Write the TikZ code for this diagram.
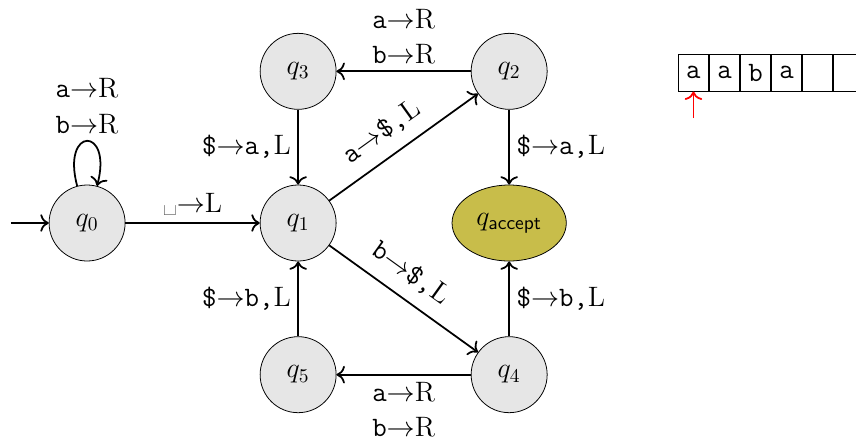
\documentclass[tikz,border=0pt]{standalone}
\usepackage{tikz}
\usetikzlibrary{positioning,shapes.geometric,arrows.meta}
\definecolor{tmgrey}{HTML}{E6E6E6}
\definecolor{tmolive}{HTML}{C8BD4A}
\definecolor{tmred}{HTML}{FF0000}
\tikzset{
  tmstate/.style={circle,draw=black,fill=tmgrey,minimum size=13.7mm,inner sep=0pt},
  accst/.style={ellipse,draw=black,fill=tmolive,minimum width=20.6mm,minimum height=13.7mm,inner sep=0pt},
  trans/.style={-{To[scale=1.2]},line width=0.9pt},
  head/.style={-{To[scale=1.2]},line width=0.9pt,draw=tmred},
  cell/.style={draw=black,minimum width=5.46mm,minimum height=6.67mm,inner sep=0pt,font=\Large\ttfamily},
  lbl/.style={align=center},
}
\newcommand{\mv}[2]{\texttt{#1}$\to$#2}

\begin{document}
\begin{tikzpicture}[font=\Large,node distance=13.5mm and 24.2mm]
  \useasboundingbox (0,0) rectangle (15.43,-7.95);
  % states
  \node[tmstate] (q0) at (1.57,-4.02) {$q_0$};
  \node[tmstate,right=of q0] (q1) {$q_1$};
  \node[tmstate,above=of q1] (q3) {$q_3$};
  \node[tmstate,right=of q3] (q2) {$q_2$};
  \node[accst,below=of q2] (qa) {$q_{\mathsf{accept}}$};
  \node[tmstate,below=of qa] (q4) {$q_4$};
  \node[tmstate,left=of q4] (q5) {$q_5$};
  \coordinate[left=6.8mm of q0] (init);
  % transitions
  \draw[trans] (init) -- (q0);
  \draw[trans] (q0) to[loop above] node[above,lbl] {\mv{a}{R}\\\mv{b}{R}} (q0);
  \draw[trans] (q0) -- node[above] {\textvisiblespace$\to$L} (q1);
  \draw[trans] (q3) -- node[left] {\mv{\$}{\texttt{a,}L}} (q1);
  \draw[trans] (q5) -- node[left] {\mv{\$}{\texttt{b,}L}} (q1);
  \draw[trans] (q1) -- node[above=3pt,sloped,pos=0.45] {\mv{a}{\texttt{\$,}L}} (q2);
  \draw[trans] (q1) -- node[above=3pt,sloped,pos=0.45] {\mv{b}{\texttt{\$,}L}} (q4);
  \draw[trans] (q2) -- node[above,lbl] {\mv{a}{R}\\\mv{b}{R}} (q3);
  \draw[trans] (q4) -- node[below,lbl] {\mv{a}{R}\\\mv{b}{R}} (q5);
  \draw[trans] (q2) -- node[right] {\mv{\$}{\texttt{a,}L}} (qa);
  \draw[trans] (q4) -- node[right] {\mv{\$}{\texttt{b,}L}} (qa);
  % tape
  \node[cell] (t1) at (12.50,-1.31) {a};
  \node[cell,right=0pt of t1] (t2) {a};
  \node[cell,right=0pt of t2] (t3) {b};
  \node[cell,right=0pt of t3] (t4) {a};
  \node[cell,right=0pt of t4] (t5) {};
  \node[cell,right=0pt of t5] (t6) {};
  \coordinate[below=4.8mm of t1.south] (hpos);
  \draw[head] (hpos) -- (t1);
\end{tikzpicture}
\end{document}
